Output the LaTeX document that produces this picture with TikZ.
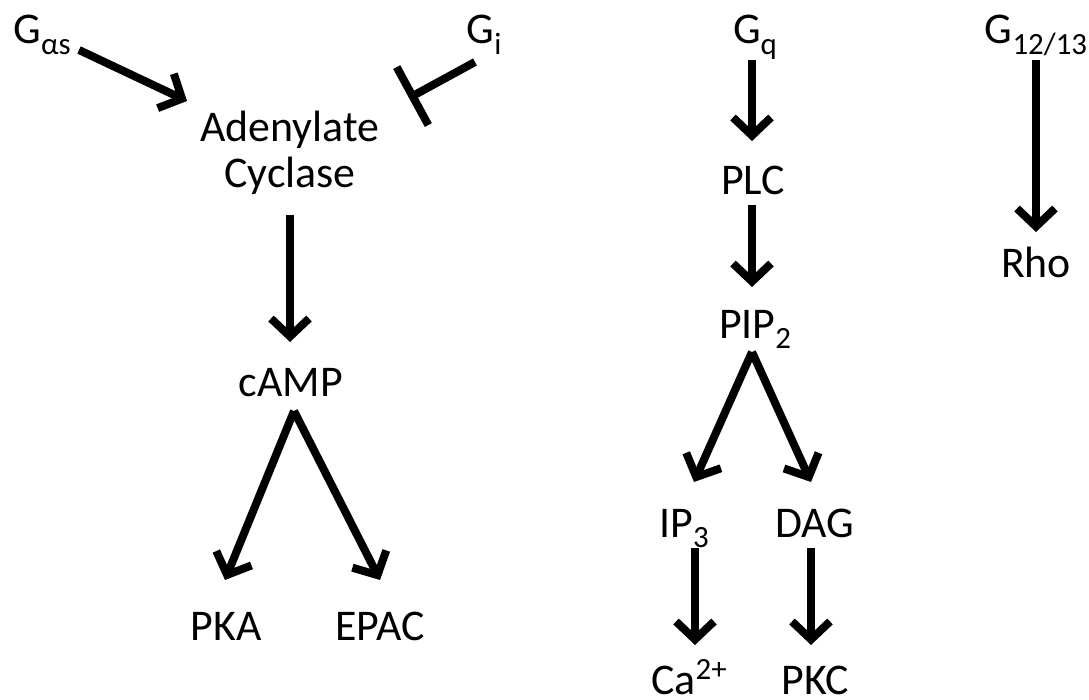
\documentclass[tikz,border=0pt]{standalone}
\usepackage{fontspec}
\setmainfont{Carlito}
\usetikzlibrary{arrows.meta}
\tikzset{
  lbl/.style={inner sep=0pt, align=center, font=\fontsize{44}{46}\selectfont},
  act/.style={line width=8bp, -{Straight Barb[length=18bp, width=38bp, line width=8bp]}},
  inh/.style={line width=8bp, -{Bar[width=66bp, line width=8bp]}},
}
% lowered / raised smaller text, as set in slide software
\newcommand{\sbs}[1]{\raisebox{-0.23em}{\fontsize{31}{31}\selectfont #1}}
\newcommand{\sps}[1]{\raisebox{0.33em}{\fontsize{31}{31}\selectfont #1}}
\begin{document}
\begin{tikzpicture}[x=1bp, y=-1bp]
  \useasboundingbox (0,0) rectangle (1089,700);
  % cAMP branch
  \node[lbl, anchor=base] (gas) at (42,44) {G\sbs{αs}};
  \node[lbl, anchor=base] (gi)  at (484,44) {G\sbs{i}};
  \node[lbl] (ac)  at (290,153) {Adenylate\\Cyclase};
  \node[lbl] (camp) at (291,383) {cAMP};
  \node[lbl] (pka) at (226,626) {PKA};
  \node[lbl] (epac) at (380,626) {EPAC};
  % Gq branch
  \node[lbl, anchor=base] (gq)  at (755,44) {G\sbs{q}};
  \node[lbl] (plc) at (753,180) {PLC};
  \node[lbl, anchor=base] (pip) at (755,338) {PIP\sbs{2}};
  \node[lbl, anchor=base] (ip3) at (684,537) {IP\sbs{3}};
  \node[lbl, anchor=base] (dag) at (815,537) {DAG};
  \node[lbl, anchor=base] (ca)  at (689,694) {Ca\sps{2+}};
  \node[lbl, anchor=base] (pkc) at (815,694) {PKC};
  % G12/13 branch
  \node[lbl, anchor=base] (g12) at (1036,44) {G\sbs{12/13}};
  \node[lbl] (rho) at (1036,262) {Rho};

  % arrow end points
  \coordinate (gasS) at (79,50);   \coordinate (acW) at (187,101);
  \coordinate (giS) at (475,62);   \coordinate (acE) at (409,98);
  \coordinate (acS) at (290,215);  \coordinate (campN) at (290,342);
  \coordinate (campS) at (294,411);
  \coordinate (pkaN) at (225,580); \coordinate (epacN) at (380,580);
  \coordinate (gqS) at (752,60);   \coordinate (plcN) at (752,141);
  \coordinate (plcS) at (752,205); \coordinate (pipN) at (752,287);
  \coordinate (pipS) at (752,352);
  \coordinate (ip3N) at (694,482); \coordinate (dagN) at (811,482);
  \coordinate (ip3S) at (695,548); \coordinate (caN) at (695,645);
  \coordinate (dagS) at (811,548); \coordinate (pkcN) at (811,645);
  \coordinate (g12S) at (1036,60); \coordinate (rhoN) at (1036,232);

  % connectors
  \draw[act] (gasS) -- (acW);
  \draw[inh] (giS) -- (acE);
  \draw[act] (acS) -- (campN);
  \draw[act] (campS) -- (pkaN);
  \draw[act] (campS) -- (epacN);
  \draw[act] (gqS) -- (plcN);
  \draw[act] (plcS) -- (pipN);
  \draw[act] (pipS) -- (ip3N);
  \draw[act] (pipS) -- (dagN);
  \draw[act] (ip3S) -- (caN);
  \draw[act] (dagS) -- (pkcN);
  \draw[act] (g12S) -- (rhoN);
\end{tikzpicture}
\end{document}
